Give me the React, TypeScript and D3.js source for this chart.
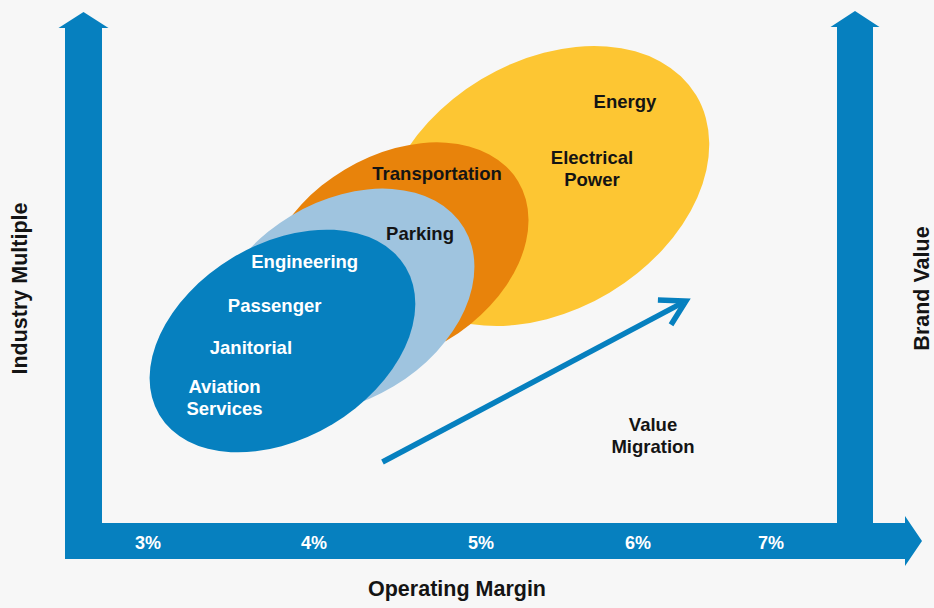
import React from "react";
import * as d3 from "d3";

// ---- data ----
const marginTicks = [3, 4, 5, 6, 7];
const marginTickLabels = ["3%", "4%", "5%", "6%", "7%"];

const segmentKeys = ["energy", "transportation", "parking", "services"];
const segmentCentreMargin = [5.41, 4.49, 4.17, 3.81];
const segmentCentreMultiple = [6.72, 5.34, 4.42, 3.62];
const segmentSpreadMajor = [1.06, 0.86, 0.855, 0.865];
const segmentSpreadMinor = [0.75, 0.6, 0.6, 0.585];

const labelLines = [
  ["Energy"],
  ["Electrical", "Power"],
  ["Transportation"],
  ["Parking"],
  ["Engineering"],
  ["Passenger"],
  ["Janitorial"],
  ["Aviation", "Services"],
  ["Value", "Migration"],
];
const labelMargin = [5.917, 5.707, 4.737, 4.635, 3.944, 3.763, 3.62, 3.461, 6.113];
const labelMultiple = [8.28, 7.17, 6.85, 5.64, 5.09, 4.21, 3.37, 2.59, 1.83];
const labelOnDark = [false, false, false, false, true, true, true, true, false];

const migrationFrom = { margin: 4.41, multiple: 1.2 };
const migrationTo = { margin: 6.36, multiple: 4.42 };

const xTitle = "Operating Margin";
const yTitle = "Industry Multiple";
const y2Title = "Brand Value";

// ---- style ----
const BG = "#f7f7f7";
const AXIS_BLUE = "#0680bf";
const SEG_COLORS = ["#fdc633", "#e8830b", "#9fc4df", "#0680bf"];
const FONT = "'Liberation Sans', Arial, Helvetica, sans-serif";
const TILT = 31;

export default function App() {
  const width = 934;
  const height = 608;

  const x = d3.scaleLinear().domain(marginTicks).range([148, 314, 481, 638, 771]);
  const y = d3.scaleLinear().domain([0, 10]).range([522, 22]);
  const unit = x(4) - x(3);

  // axis frame geometry
  const shaftL0 = 65, shaftL1 = 102;
  const shaftR0 = 837, shaftR1 = 873;
  const barTop = y(0) + 1, barBot = 559;
  const headTopL = 12, headBaseL = 28;
  const headTopR = 11, headBaseR = 27;
  const headX = 905, tipX = 922;
  const wing = 6.5;
  const midBar = (barTop + barBot) / 2;

  const frame = d3.path();
  frame.moveTo(shaftL0, barBot);
  frame.lineTo(shaftL0, headBaseL);
  frame.lineTo(shaftL0 - wing, headBaseL);
  frame.lineTo((shaftL0 + shaftL1) / 2, headTopL);
  frame.lineTo(shaftL1 + wing, headBaseL);
  frame.lineTo(shaftL1, headBaseL);
  frame.lineTo(shaftL1, barTop);
  frame.lineTo(shaftR0, barTop);
  frame.lineTo(shaftR0, headBaseR);
  frame.lineTo(shaftR0 - wing, headBaseR);
  frame.lineTo((shaftR0 + shaftR1) / 2, headTopR);
  frame.lineTo(shaftR1 + wing, headBaseR);
  frame.lineTo(shaftR1, headBaseR);
  frame.lineTo(shaftR1, barTop);
  frame.lineTo(headX, barTop);
  frame.lineTo(headX, barTop - 7);
  frame.lineTo(tipX, midBar);
  frame.lineTo(headX, barBot + 7);
  frame.lineTo(headX, barBot);
  frame.closePath();

  // migration arrow
  const x0 = x(migrationFrom.margin), y0 = y(migrationFrom.multiple);
  const x1 = x(migrationTo.margin), y1 = y(migrationTo.multiple);
  const ang = Math.atan2(y1 - y0, x1 - x0);
  const armLen = 28;
  const armA = 30 * Math.PI / 180;
  const a1 = [x1 - armLen * Math.cos(ang + armA), y1 - armLen * Math.sin(ang + armA)];
  const a2 = [x1 - armLen * Math.cos(ang - armA), y1 - armLen * Math.sin(ang - armA)];
  const lineEnd = [x1 - 3 * Math.cos(ang), y1 - 3 * Math.sin(ang)];
  const chevron = d3.line()([a1 as [number, number], [x1, y1], a2 as [number, number]]);

  return (
    <div style={{ position: "absolute", left: 0, top: 0 }}>
      <svg width={width} height={height} style={{ display: "block" }} fontFamily={FONT}>
        <rect x={0} y={0} width={width} height={height} fill={BG} />

        {segmentKeys.map((k, i) => {
          const cx = x(segmentCentreMargin[i]);
          const cy = y(segmentCentreMultiple[i]);
          return (
            <ellipse
              key={k}
              cx={cx}
              cy={cy}
              rx={segmentSpreadMajor[i] * unit}
              ry={segmentSpreadMinor[i] * unit}
              fill={SEG_COLORS[i]}
              transform={`rotate(${-TILT} ${cx} ${cy})`}
            />
          );
        })}

        <path d={frame.toString()} fill={AXIS_BLUE} />

        {marginTicks.map((t, i) => (
          <text
            key={t}
            x={x(t)}
            y={midBar + 8}
            textAnchor="middle"
            fontSize={18}
            fontWeight="bold"
            fill="#ffffff"
          >
            {marginTickLabels[i]}
          </text>
        ))}

        <line
          x1={x0}
          y1={y0}
          x2={lineEnd[0]}
          y2={lineEnd[1]}
          stroke={AXIS_BLUE}
          strokeWidth={5.5}
        />
        <path d={chevron || ""} fill="none" stroke={AXIS_BLUE} strokeWidth={5.5} strokeLinejoin="miter" />

        {labelLines.map((lines, i) => (
          <text
            key={i}
            x={x(labelMargin[i])}
            y={y(labelMultiple[i])}
            textAnchor="middle"
            fontSize={18.5}
            fontWeight="bold"
            fill={labelOnDark[i] ? "#ffffff" : "#141414"}
          >
            {lines.map((l, j) => (
              <tspan key={j} x={x(labelMargin[i])} dy={j === 0 ? 0 : 22.4}>
                {l}
              </tspan>
            ))}
          </text>
        ))}

        <text x={457} y={596} textAnchor="middle" fontSize={21.5} fontWeight="bold" fill="#141414">
          {xTitle}
        </text>
        <text
          transform={`translate(27 ${288.5}) rotate(-90)`}
          textAnchor="middle"
          fontSize={21.5}
          fontWeight="bold"
          fill="#141414"
        >
          {yTitle}
        </text>
        <text
          transform={`translate(929 ${288.5}) rotate(-90)`}
          textAnchor="middle"
          fontSize={21.5}
          fontWeight="bold"
          fill="#141414"
        >
          {y2Title}
        </text>
      </svg>
    </div>
  );
}
